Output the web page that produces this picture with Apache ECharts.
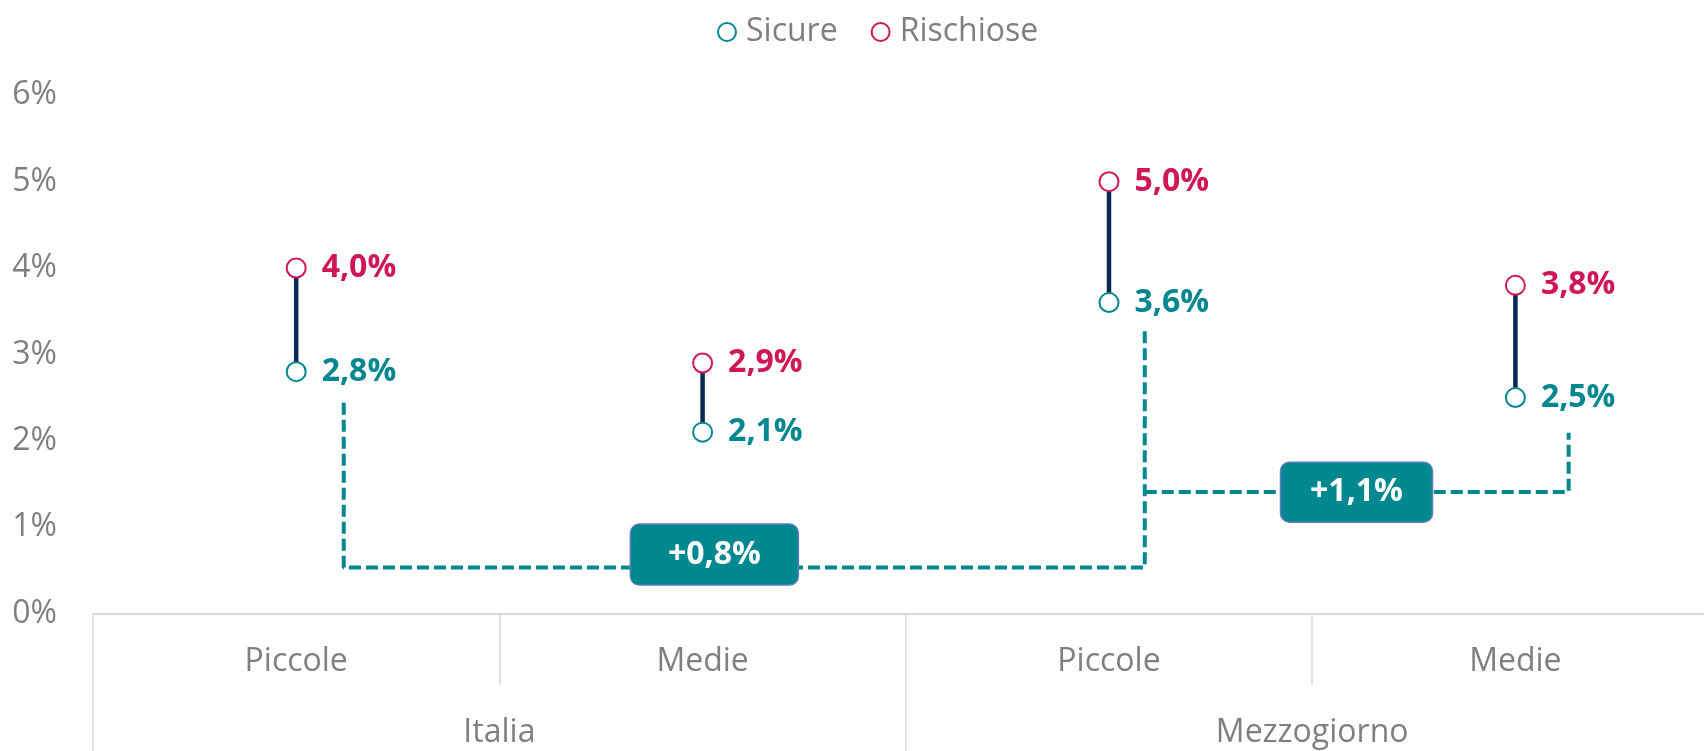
<!DOCTYPE html>
<html>
<head>
<meta charset="utf-8">
<script src="https://cdn.jsdelivr.net/npm/echarts@6/dist/echarts.min.js"></script>
<style>
html,body{margin:0;padding:0;background:#fff;}
#c{width:1704px;height:751px;}
</style>
</head>
<body>
<div id="c"></div>
<script>
// ---- data ----
const subCategories = ['Piccole', 'Medie', 'Piccole', 'Medie'];
const groups = ['Italia', 'Mezzogiorno'];
const sicure = [2.8, 2.1, 3.6, 2.5];
const rischiose = [4.0, 2.9, 5.0, 3.8];
const yTicks = [0, 1, 2, 3, 4, 5, 6];
// difference brackets (x in category-index units, y in %)
const bracketItalia = [[0.117, 2.44], [0.117, 0.532], [2.088, 0.532], [2.088, 3.32]];
const bracketMezz = [[2.088, 1.408], [3.131, 1.408], [3.131, 2.094]];
const boxPos = [[1.029, 0.682], [2.609, 1.405]];
const boxLabels = ['+0,8%', '+1,1%'];

// ---- styles ----
const TEAL = '#00878f';
const RED = '#d01657';
const NAVY = '#0b2852';
const GRAY = '#7f7f7f';
const AXIS = '#d9d9d9';
const FONT = '"Open Sans", "Noto Sans", sans-serif';
const boxSizes = [[168, 61], [152, 60]];

const fmt = v => v.toFixed(1).replace('.', ',') + '%';

const chart = echarts.init(document.getElementById('c'), null, {renderer: 'canvas'});
chart.setOption({
  animation: false,
  backgroundColor: '#fff',
  textStyle: {fontFamily: FONT},
  legend: {
    data: [{name: 'Sicure', icon: 'emptyCircle'}, {name: 'Rischiose', icon: 'emptyCircle'}],
    left: 712, top: 11,
    itemWidth: 18, itemHeight: 18, itemGap: 33,
    itemStyle: {borderWidth: 2.5, opacity: 1},
    textStyle: {color: GRAY, fontSize: 32, fontFamily: FONT, padding: [0, 0, 0, 5]}
  },
  grid: {left: 93, top: 95.3, width: 1625.6, height: 518.2, containLabel: false, outerBoundsMode: 'none'},
  xAxis: [
    {
      type: 'category', data: subCategories, position: 'bottom', boundaryGap: true,
      axisLine: {show: true, lineStyle: {color: AXIS, width: 2}},
      axisTick: {show: true, interval: 0, length: 71, lineStyle: {color: AXIS, width: 1.5}},
      axisLabel: {color: GRAY, fontSize: 32, fontFamily: FONT, margin: 32, lineHeight: 32, interval: 0}
    },
    {
      type: 'category', data: groups, position: 'bottom', boundaryGap: true,
      axisLine: {show: false},
      axisTick: {show: true, interval: 0, length: 150, lineStyle: {color: AXIS, width: 1.5}},
      axisLabel: {color: GRAY, fontSize: 32, fontFamily: FONT, margin: 103, lineHeight: 32, interval: 0}
    },
    {type: 'value', min: -0.5, max: 3.5, show: false, position: 'top'}
  ],
  yAxis: {
    type: 'value', min: yTicks[0], max: yTicks[yTicks.length - 1], interval: 1,
    axisLine: {show: false}, axisTick: {show: false}, splitLine: {show: false},
    axisLabel: {color: GRAY, fontSize: 32, fontFamily: FONT, margin: 36, formatter: '{value}%'}
  },
  series: [
    {
      name: 'conn', type: 'custom', xAxisIndex: 0, z: 1, silent: true,
      encode: {x: 0, y: [1, 2]},
      data: sicure.map((v, i) => [i, v, rischiose[i]]),
      renderItem: (params, api) => {
        const a = api.coord([api.value(0), api.value(1)]);
        const b = api.coord([api.value(0), api.value(2)]);
        return {type: 'line', shape: {x1: a[0], y1: a[1], x2: b[0], y2: b[1]},
          style: {stroke: NAVY, lineWidth: 4.5}};
      }
    },
    {
      name: 'b1', type: 'line', xAxisIndex: 2, data: bracketItalia, symbol: 'none', z: 1, silent: true,
      lineStyle: {color: TEAL, width: 4, type: [12, 5]}
    },
    {
      name: 'b2', type: 'line', xAxisIndex: 2, data: bracketMezz, symbol: 'none', z: 1, silent: true,
      lineStyle: {color: TEAL, width: 4, type: [12, 5]}
    },
    {
      name: 'Sicure', type: 'scatter', xAxisIndex: 0, data: sicure, z: 3,
      symbol: 'emptyCircle', symbolSize: 19,
      itemStyle: {color: TEAL, borderWidth: 2.5, opacity: 1},
      label: {show: true, position: 'right', distance: 15, color: TEAL, fontSize: 32, fontWeight: 'bold',
        fontFamily: FONT, formatter: p => fmt(p.value)}
    },
    {
      name: 'Rischiose', type: 'scatter', xAxisIndex: 0, data: rischiose, z: 3,
      symbol: 'emptyCircle', symbolSize: 19,
      itemStyle: {color: RED, borderWidth: 2.5, opacity: 1},
      label: {show: true, position: 'right', distance: 15, color: RED, fontSize: 32, fontWeight: 'bold',
        fontFamily: FONT, formatter: p => fmt(p.value)}
    },
    {
      name: 'boxes', type: 'custom', xAxisIndex: 2, z: 4, silent: true,
      encode: {x: 0, y: 1},
      data: boxPos.map((p, i) => [p[0], p[1], i]),
      renderItem: (params, api) => {
        const c = api.coord([api.value(0), api.value(1)]);
        const i = params.dataIndex;
        const w = boxSizes[i][0], h = boxSizes[i][1];
        return {type: 'group', children: [
          {type: 'rect', shape: {x: c[0] - w / 2, y: c[1] - h / 2, width: w, height: h, r: 9},
            style: {fill: '#008890', stroke: '#5a7cc0', lineWidth: 1.5}},
          {type: 'text', style: {text: boxLabels[i], x: c[0], y: c[1], align: 'center', verticalAlign: 'middle',
            fill: '#ffffff', fontSize: 32, fontWeight: 'bold', fontFamily: FONT}}
        ]};
      }
    }
  ]
});
</script>
</body>
</html>
